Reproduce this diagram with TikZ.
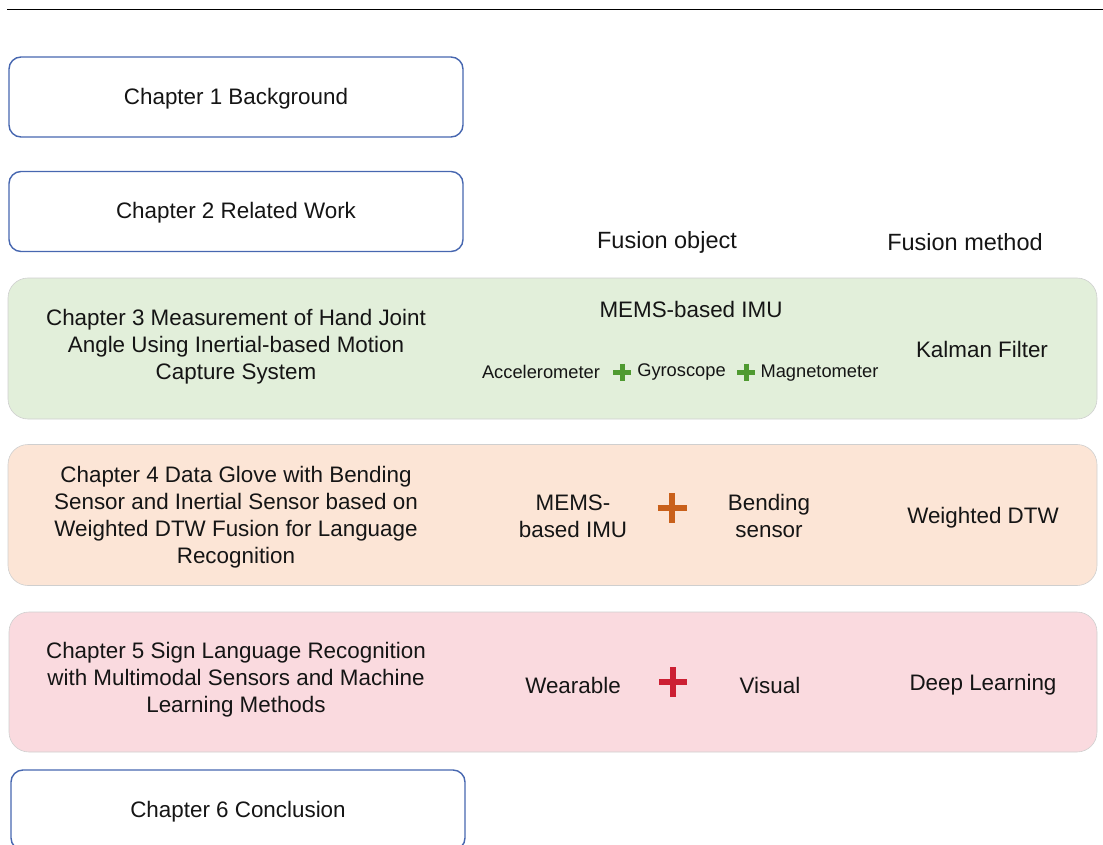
\documentclass[tikz,border=0pt]{standalone}
\usepackage{fontspec}
\setmainfont{Liberation Sans}
\definecolor{chapblue}{HTML}{4767B0}
\definecolor{greenfill}{HTML}{E2EFDA}
\definecolor{orangefill}{HTML}{FCE5D6}
\definecolor{pinkfill}{HTML}{FADADF}
\definecolor{bandline}{HTML}{CFCFCF}
\definecolor{plusgreen}{HTML}{4F9A30}
\definecolor{plusorange}{HTML}{C9601A}
\definecolor{plusred}{HTML}{CC1F33}
\definecolor{ink}{HTML}{151515}
\tikzset{
  every node/.style={text=ink, font=\fontsize{22.4}{27}\selectfont, inner sep=0pt},
  chapbox/.style={draw=chapblue, line width=1.4pt, rounded corners=12pt, fill=white,
    minimum width=454pt, minimum height=80pt},
  band/.style={draw=bandline, line width=0.6pt, rounded corners=20pt,
    minimum width=1089pt, minimum height=141pt},
  txt/.style={align=center},
  small/.style={font=\fontsize{18.3}{22}\selectfont},
  head/.style={font=\fontsize{23.5}{28}\selectfont},
  plusbig/.style={line width=6pt},
  plussmall/.style={line width=5pt, plusgreen},
}
\begin{document}
\begin{tikzpicture}[x=1pt,y=-1pt]
\useasboundingbox (0,0) rectangle (1103,845);
\clip (0,0) rectangle (1103,845);

% rule at the top
\coordinate (ruleL) at (7,10);
\coordinate (ruleR) at (1103,10);
\draw[line width=1pt, black] (ruleL) -- (ruleR);

% plain chapter boxes
\node[chapbox] (c1) at (236,97) {};
\node (t1) at (236,99) {Chapter 1 Background};
\node[chapbox] (c2) at (236,211.5) {};
\node (t2) at (236,213) {Chapter 2 Related Work};

% column headings
\node[head] (hobj) at (667,242) {Fusion object};
\node[head] (hmeth) at (965,242) {Fusion method};

% chapter 3 band
\node[band, fill=greenfill] (b3) at (552.5,348.5) {};
\node[txt] (c3) at (236,347) {Chapter 3 Measurement of Hand Joint\\Angle Using Inertial-based Motion\\Capture System};
\node (imu3) at (691,309) {MEMS-based IMU};
\node (kf) at (982,349.5) {Kalman Filter};
\node[small] (acc) at (541,372) {Accelerometer};
\node[small] (gyr) at (681.5,372) {Gyroscope};
\node[small] (mag) at (819.5,373) {Magnetometer};
\draw[plussmall] (622,372) +(-9,0) -- +(9,0) (622,372) +(0,-8.5) -- +(0,8.5);
\draw[plussmall] (746,372) +(-9,0) -- +(9,0) (746,372) +(0,-8.5) -- +(0,8.5);

% chapter 4 band
\node[band, fill=orangefill] (b4) at (552.5,515) {};
\node[txt] (c4) at (236,517) {Chapter 4 Data Glove with Bending\\Sensor and Inertial Sensor based on\\Weighted DTW Fusion for Language\\Recognition};
\node[txt] (imu4) at (573,516) {MEMS-\\based IMU};
\node[txt] (bend) at (769,516) {Bending\\sensor};
\node (wdtw) at (983,517.5) {Weighted DTW};
\draw[plusbig, plusorange] (672,508) +(-14.5,0) -- +(14.5,0) (672,508) +(0,-15) -- +(0,15);

% chapter 5 band
\node[band, fill=pinkfill, minimum width=1088pt, minimum height=140pt] (b5) at (553,682) {};
\node[txt] (c5) at (236,680) {Chapter 5 Sign Language Recognition\\with Multimodal Sensors and Machine\\Learning Methods};
\node (wear) at (573,685) {Wearable};
\node (vis) at (770,685) {Visual};
\node (dl) at (983,685) {Deep Learning};
\draw[plusbig, plusred] (673,682) +(-14,0) -- +(14,0) (673,682) +(0,-15) -- +(0,15);

% closing chapter box, running off the lower edge
\node[chapbox] (c6) at (238,810) {};
\node (t6) at (238,812) {Chapter 6 Conclusion};
\end{tikzpicture}
\end{document}
